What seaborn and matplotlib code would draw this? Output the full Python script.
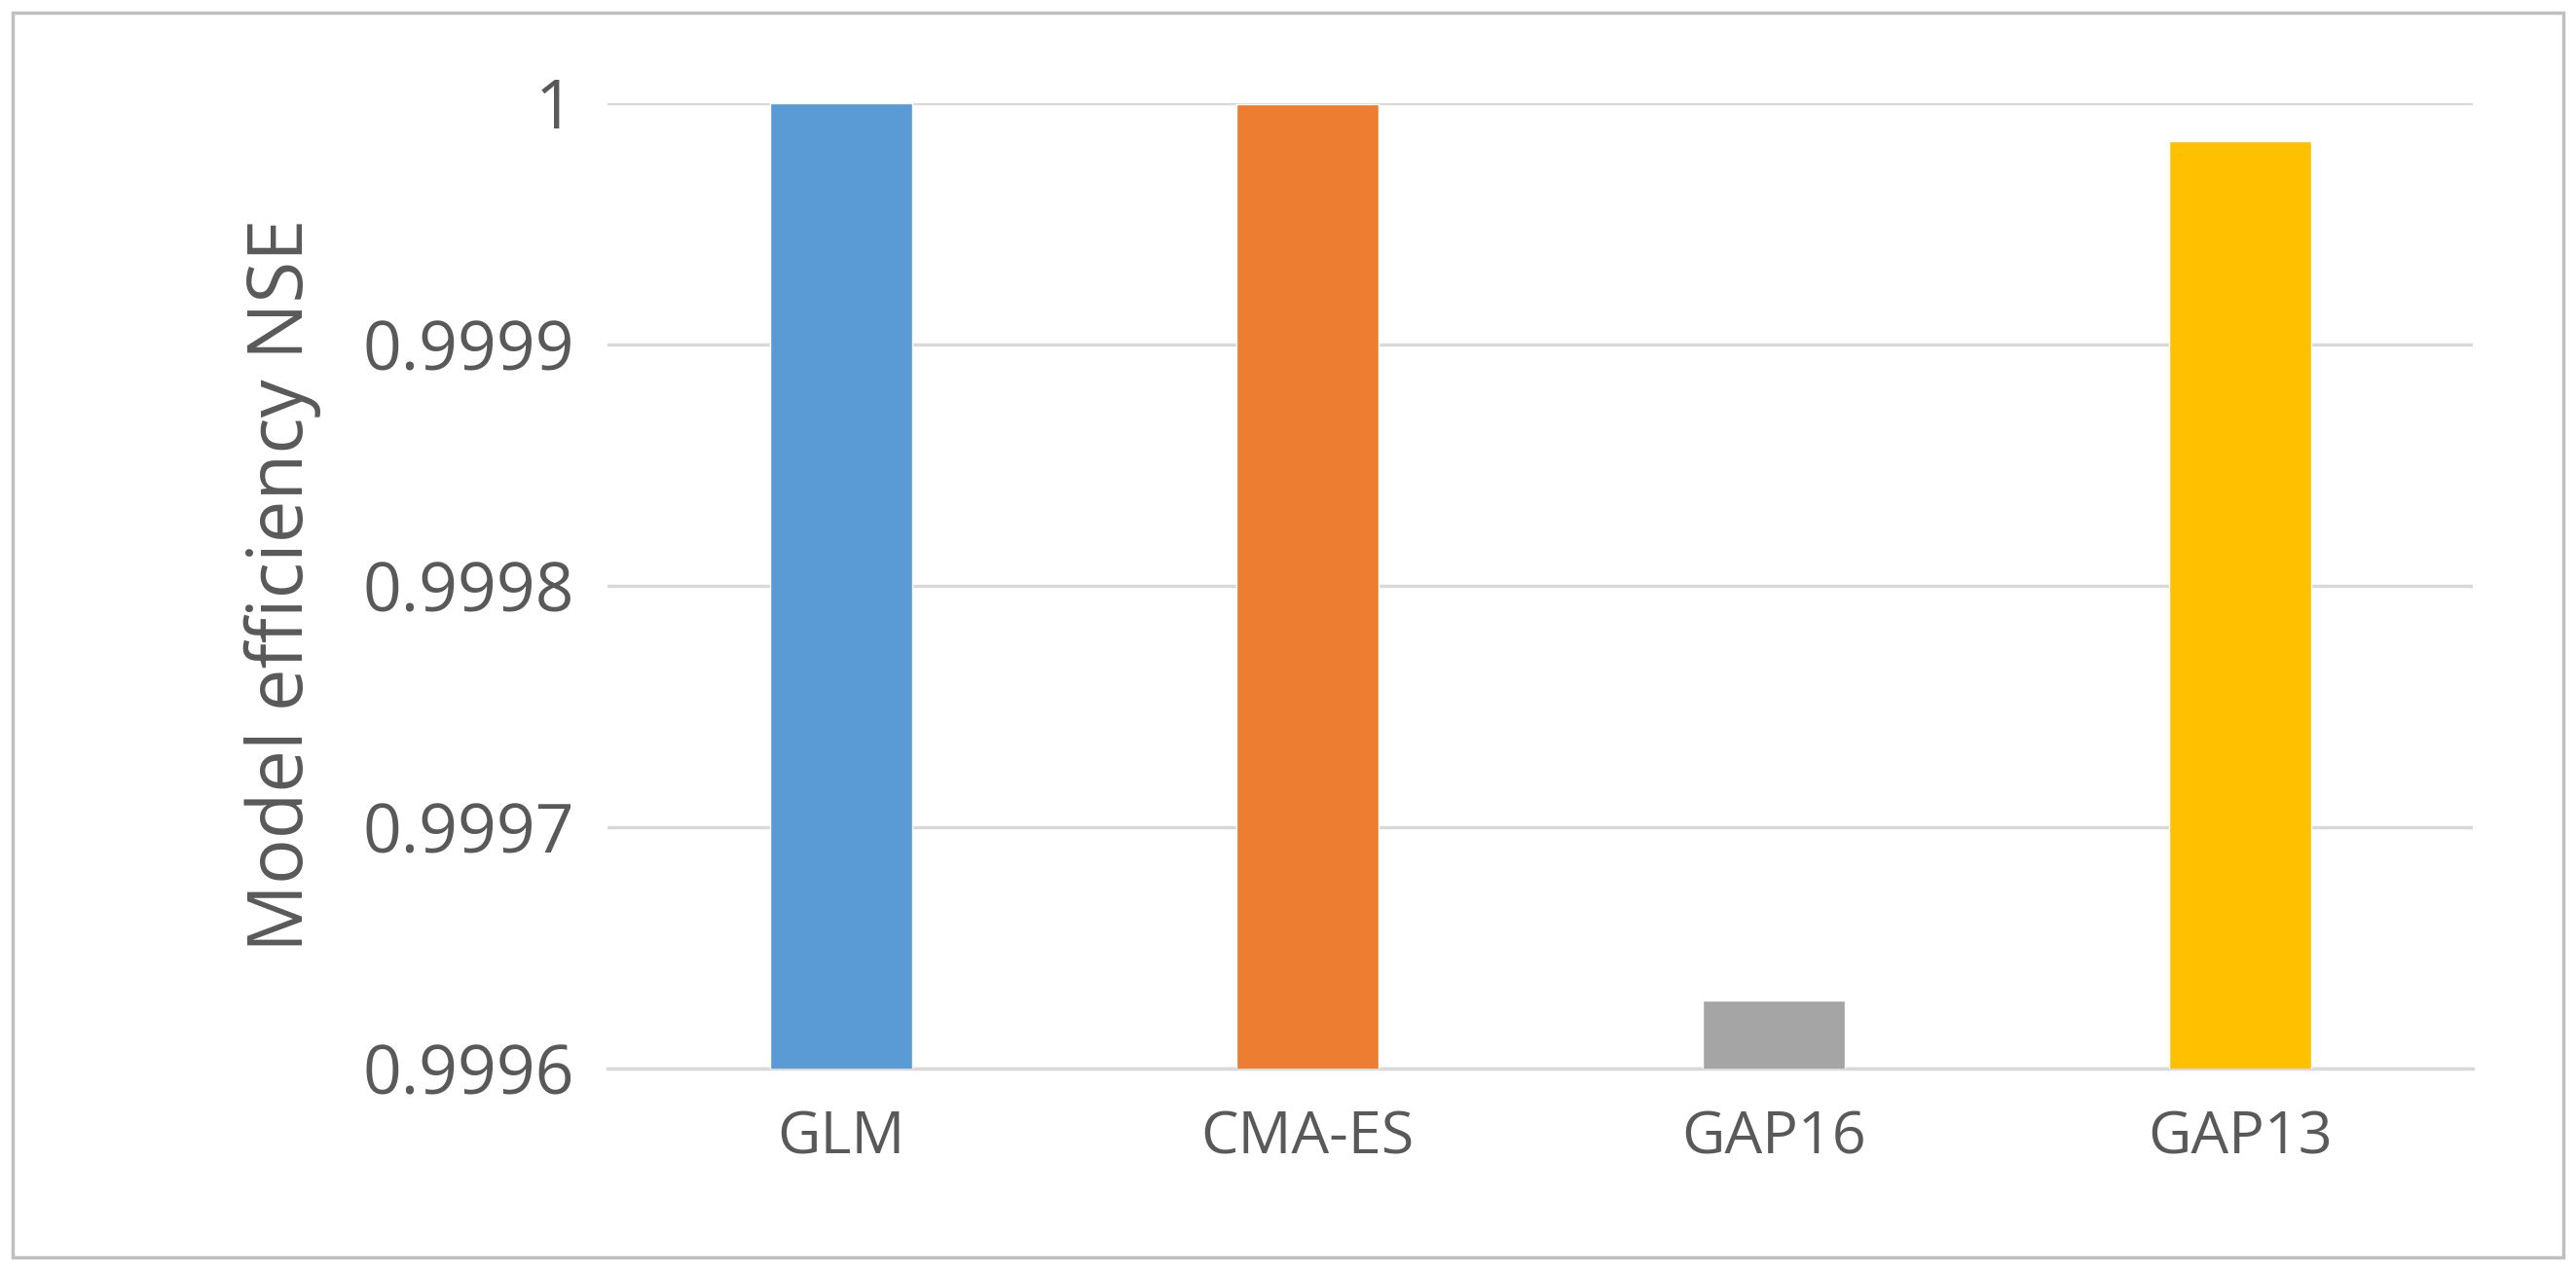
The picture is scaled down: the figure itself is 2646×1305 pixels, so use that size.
import matplotlib
matplotlib.use("Agg")
import matplotlib.pyplot as plt
import seaborn as sns
import pandas as pd
from matplotlib.patches import Rectangle

categories = ["GLM", "CMA-ES", "GAP16", "GAP13"]
values = [1.0, 0.99999966, 0.999628, 0.9999843]
colors = ["#5B9BD5", "#ED7D31", "#A5A5A5", "#FFC000"]
yticks = [0.9996, 0.9997, 0.9998, 0.9999, 1.0]
yticklabels = ["0.9996", "0.9997", "0.9998", "0.9999", "1"]

sns.set_theme(style="white")
plt.rcParams['font.family'] = ['Open Sans', 'DejaVu Sans']
fig = plt.figure(figsize=(26.46, 13.05), dpi=100)
ax = fig.add_axes([0.236, 0.159, 0.724, 0.760])
df = pd.DataFrame({"cat": categories, "val": values})
sns.barplot(data=df, x="cat", y="val", hue="cat", palette=colors, legend=False,
            width=0.305, saturation=1, ax=ax, zorder=3)
ax.set_ylim(0.9996, 1.0)
ax.set_yticks(yticks)
ax.set_yticklabels(yticklabels)
ax.grid(axis="y", color="#D9D9D9", linewidth=2.5, zorder=0)
for s in ["top", "right", "left"]:
    ax.spines[s].set_visible(False)
ax.spines["bottom"].set_color("#D9D9D9")
ax.spines["bottom"].set_linewidth(2.5)
ax.set_xlabel("")
ax.set_ylabel("Model efficiency NSE", fontsize=56, color="#595959", labelpad=30)
ax.tick_params(axis="y", labelsize=50, colors="#595959", length=0, pad=25)
ax.tick_params(axis="x", labelsize=44, colors="#595959", length=0, pad=30)
fig.patches.append(Rectangle((0.005, 0.01), 0.99, 0.98, transform=fig.transFigure,
                             fill=False, edgecolor="#BFBFBF", linewidth=2.5))
fig.savefig("out.png", dpi=100)
